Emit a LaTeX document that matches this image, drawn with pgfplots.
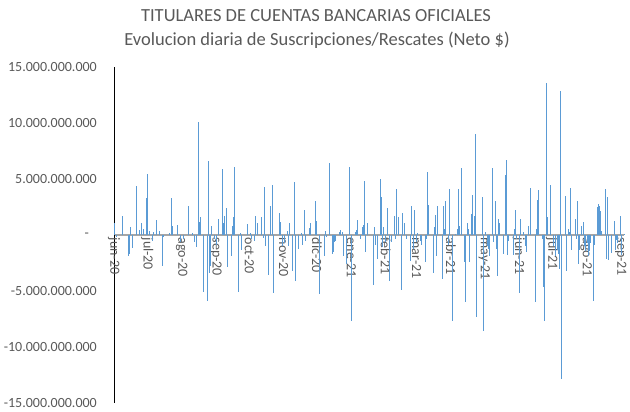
\documentclass[border=0pt]{standalone}
\usepackage{fontspec}
\setmainfont{Carlito}
\usepackage{pgfplots}
\pgfplotsset{compat=1.18}
\usepackage{pgfplotstable}
\definecolor{barblue}{HTML}{5B9BD5}
\definecolor{txtgray}{HTML}{595959}
\definecolor{zerogray}{HTML}{A6A6A6}

% day index (days since 2020-06-01), net value in billions of $
\pgfplotstableread{
d v
0 1.1
2 -0.2
8 1.7
13 -1.85
14 -1.7
15 0.7
17 -1.2
20 4.35
23 0.45
25 1.1
27 0.5
29 3.3
30 5.45
32 0.4
35 -0.5
36 0.3
38 1.3
41 0.4
44 -2.75
45 -0.2
50 0.2
52 3.3
53 0.8
57 0.9
60 -0.65
63 -0.4
67 2.6
71 0.15
73 -0.6
74 -1.1
76 10.1
77 1.2
78 1.65
81 -5.05
84 -5.9
85 6.6
86 -3.35
87 -2.75
88 0.8
91 -0.35
92 -0.85
94 1.4
98 5.9
99 1.1
100 1.7
101 2.45
102 -2.9
106 -1.9
107 0.8
108 1.6
109 6.05
112 -5.1
114 0.15
115 -1.3
120 0.95
123 0.2
124 -0.35
127 -0.5
128 1.7
129 1.1
133 1.6
135 -0.3
136 4.25
137 -1.0
139 -3.6
141 2.55
143 4.45
144 -5.2
149 1.95
150 1.2
152 -1.0
154 -0.7
156 0.4
157 -1.0
158 1.1
161 -3.25
163 4.75
164 -4.15
166 -1.25
169 0.15
170 -0.9
172 2.2
173 -0.55
176 0.6
177 1.1
182 3.05
183 1.25
185 -5.3
190 -1.85
191 0.4
192 -0.2
194 6.4
197 -1.7
198 -1.55
199 -0.65
200 -0.5
203 0.25
204 0.45
206 0.25
207 -1.85
210 -2.6
212 6.1
214 -7.65
218 0.25
219 0.45
220 1.3
222 -0.35
224 0.75
225 0.9
226 4.85
227 -1.55
229 1.1
234 -4.5
235 0.75
236 -0.85
238 -2.1
240 5.0
241 3.4
242 -1.1
243 0.75
245 -0.65
247 2.45
248 -4.1
250 -0.65
253 1.7
254 -0.35
255 4.15
257 1.6
259 -4.95
260 2.0
262 1.1
264 -0.35
267 -2.3
268 2.6
270 -1.25
271 2.2
273 -0.65
274 0.2
276 -0.5
277 -0.85
281 -2.45
282 -0.35
283 5.65
284 2.7
288 -3.35
289 0.7
290 1.8
291 -1.85
292 2.6
296 -3.9
297 2.6
298 0.5
299 3.05
302 -0.85
303 4.1
305 -7.65
308 0.1
310 0.5
311 4.15
312 0.8
313 6.0
316 -2.45
317 -5.95
319 1.1
320 0.5
321 -2.4
322 1.9
323 3.55
325 1.7
326 9.05
327 -7.35
332 3.4
333 -8.55
335 0.25
337 -0.95
338 -1.25
339 -1.85
341 6.0
342 -0.65
344 3.05
345 -1.25
346 -3.7
347 1.4
348 1.1
351 -1.7
353 5.35
354 6.7
355 -1.8
356 -0.5
360 -1.8
361 0.5
362 2.2
363 -0.35
366 -5.2
367 1.4
369 0.25
371 -0.95
372 -1.55
374 0.8
376 4.2
380 -5.95
381 0.5
382 3.15
383 4.0
386 -0.35
387 -4.6
388 -7.65
390 13.6
391 1.6
394 4.45
396 -1.0
398 -1.9
400 -1.3
401 -1.7
402 -3.05
403 12.9
404 -12.9
407 3.5
408 -3.2
410 0.5
411 0.25
412 4.2
413 -1.3
416 1.45
417 -0.4
418 3.05
419 -2.6
420 -1.3
422 0.8
423 1.15
424 -1.0
425 -1.45
427 -0.7
428 -1.9
429 -1.45
430 -0.7
432 -5.9
433 -0.85
436 2.5
437 2.8
438 2.6
439 2.15
440 0.35
443 4.1
444 -2.1
445 3.4
446 -2.2
449 -1.65
451 1.25
452 -1.3
453 -0.45
454 -0.7
457 1.7
458 -1.75
460 0.05
}\netdata

\begin{document}
\begin{tikzpicture}
\useasboundingbox (0,0) rectangle (630bp,412bp);
\begin{axis}[
  at={(114bp,9bp)}, anchor=south west,
  scale only axis, width=510bp, height=336bp,
  xmin=0, xmax=460, ymin=-15, ymax=15,
  enlargelimits=false,
  axis x line=middle, axis y line=left,
  x axis line style={-, draw=zerogray, line width=1.3bp},
  y axis line style={-, draw=black, line width=1bp},
  hide obscured x ticks=false, hide obscured y ticks=false,
  major tick length=0pt,
  xtick={0,30,61,92,122,153,183,214,245,273,304,334,365,395,426,457},
  xticklabels={jun-20,jul-20,ago-20,sep-20,oct-20,nov-20,dic-20,ene-21,feb-21,mar-21,abr-21,may-21,jun-21,jul-21,ago-21,sep-21},
  xticklabel style={rotate=-90, anchor=west, inner sep=2.5bp, text=txtgray, font=\fontsize{14bp}{16bp}\selectfont},
  ytick={-15,-10,-5,0,5,10,15},
  yticklabels={-15.000.000.000,-10.000.000.000,-5.000.000.000,{-\hspace*{8bp}},5.000.000.000,10.000.000.000,15.000.000.000},
  yticklabel shift=17bp,
  yticklabel style={anchor=east, inner sep=0pt, text=txtgray, font=\fontsize{14bp}{16bp}\selectfont},
  clip=false,
]
\addplot[ycomb, draw=barblue, line width=0.9bp, mark=none] table[x=d, y=v] {\netdata};
\end{axis}
\node[text=txtgray, font=\fontsize{18.5bp}{22bp}\selectfont] at (316bp,396bp) {TITULARES DE CUENTAS BANCARIAS OFICIALES};
\node[text=txtgray, font=\fontsize{18.5bp}{22bp}\selectfont] at (317bp,372bp) {Evolucion diaria de Suscripciones/Rescates (Neto \$)};
\end{tikzpicture}
\end{document}
